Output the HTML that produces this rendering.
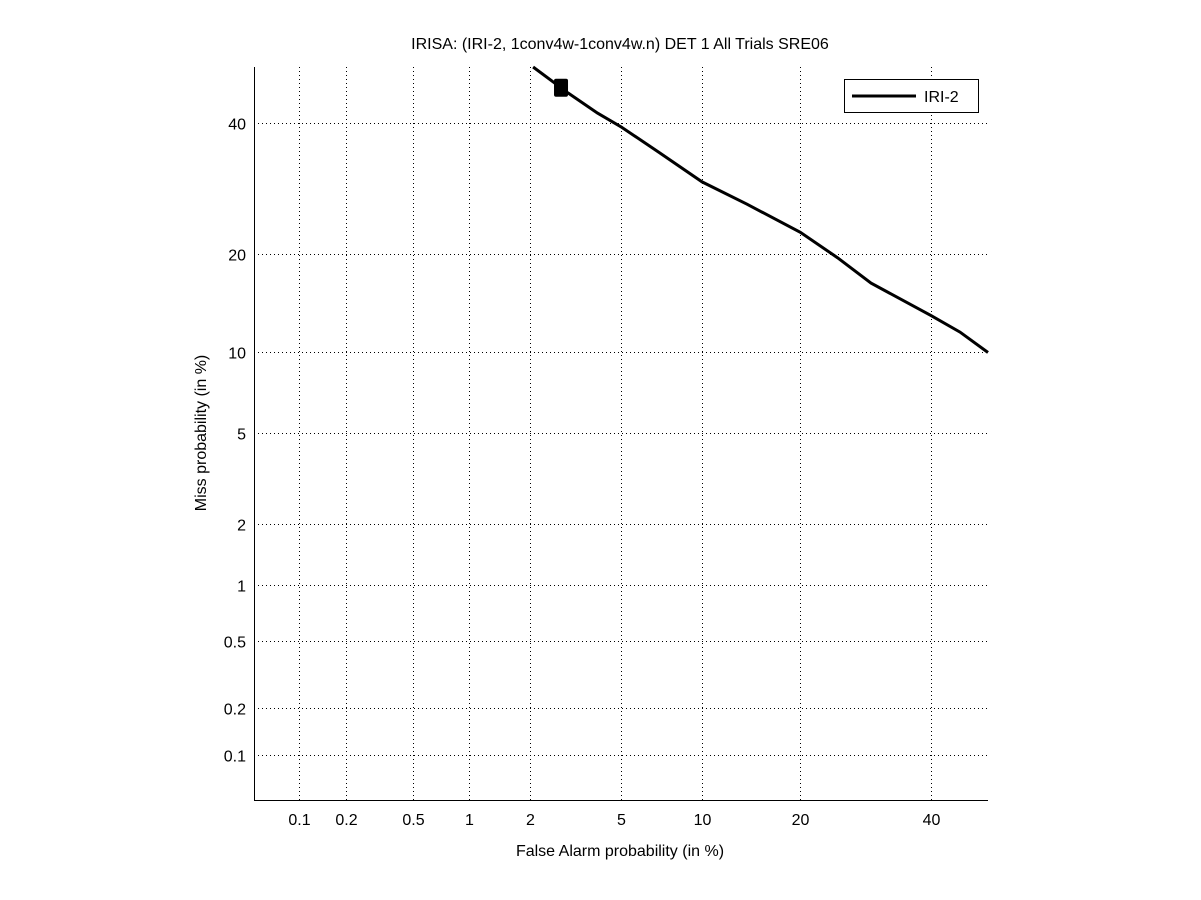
<!DOCTYPE html>
<html><head><meta charset="utf-8"><style>
html,body{margin:0;padding:0;background:#fff;}
svg{display:block;font-family:"Liberation Sans",sans-serif;}
</style></head><body>
<svg id="chart" width="1201" height="900">
<rect x="0" y="0" width="1201" height="900" fill="#fff"/>
<text x="620" y="49" font-size="16" text-anchor="middle">IRISA: (IRI-2, 1conv4w-1conv4w.n) DET 1 All Trials SRE06</text>
<text x="620" y="856" font-size="16" text-anchor="middle">False Alarm probability (in %)</text>
<text transform="translate(206,433) rotate(-90)" font-size="16" text-anchor="middle">Miss probability (in %)</text>
<g id="grid"></g><g id="ticks"></g><g id="series"></g>
<line x1="254.5" y1="67" x2="254.5" y2="800.5" stroke="#000"/>
<line x1="254" y1="800.5" x2="988" y2="800.5" stroke="#000"/>
<g>
<rect x="844.5" y="79.5" width="134" height="33" fill="#fff" stroke="#000"/>
<line x1="852" y1="96" x2="916" y2="96" stroke="#000" stroke-width="3"/>
<text x="924" y="102" font-size="16">IRI-2</text>
</g>
</svg>
<script>
const xTicks=[0.1,0.2,0.5,1,2,5,10,20,40];
const yTicks=[0.1,0.2,0.5,1,2,5,10,20,40];
const faPct=[2.07,3,4,5,7,10,14,20,25,30,40,45,50];
const missPct=[50,45.3,41.8,39.4,35.1,30.3,26.9,22.9,19.6,16.6,13.2,11.7,10];
const minDcf=[2.78,46.3];
function probit(p){
 const a=[-39.69683028665376,220.9460984245205,-275.9285104469687,138.357751867269,-30.66479806614716,2.506628277459239];
 const b=[-54.47609879822406,161.5858368580409,-155.6989798598866,66.80131188771972,-13.28068155288572];
 const c=[-0.007784894002430293,-0.3223964580411365,-2.400758277161838,-2.549732539343734,4.374664141464968,2.938163982698783];
 const d=[0.007784695709041462,0.3224671290700398,2.445134137142996,3.754408661907416];
 let q,r;
 if(p<0.02425){q=Math.sqrt(-2*Math.log(p));return (((((c[0]*q+c[1])*q+c[2])*q+c[3])*q+c[4])*q+c[5])/((((d[0]*q+d[1])*q+d[2])*q+d[3])*q+1);}
 if(p>1-0.02425){q=Math.sqrt(-2*Math.log(1-p));return -(((((c[0]*q+c[1])*q+c[2])*q+c[3])*q+c[4])*q+c[5])/((((d[0]*q+d[1])*q+d[2])*q+d[3])*q+1);}
 q=p-0.5;r=q*q;return (((((a[0]*r+a[1])*r+a[2])*r+a[3])*r+a[4])*r+a[5])*q/(((((b[0]*r+b[1])*r+b[2])*r+b[3])*r+b[4])*r+1);
}
const lo=probit(0.0005),hi=0;
function xs(p){return 254+(probit(p/100)-lo)/(hi-lo)*734;}
function ys(p){return 800-(probit(p/100)-lo)/(hi-lo)*733;}
const NS="http://www.w3.org/2000/svg";
function mk(t,at,parent){const e=document.createElementNS(NS,t);for(const k in at)e.setAttribute(k,at[k]);document.getElementById(parent).appendChild(e);return e;}
xTicks.forEach(v=>{const x=Math.round(xs(v))+0.5;
 const g=mk('line',{x1:x,x2:x,y1:67,y2:800,stroke:'#000','stroke-dasharray':'1,3','stroke-width':1},'grid');
 
 
 const t=mk('text',{x:x,y:825,'font-size':16,'text-anchor':'middle'},'ticks');t.textContent=v;
 
 
});
yTicks.forEach(v=>{const y=Math.round(ys(v))+0.5;
 const g=mk('line',{x1:254,x2:988,y1:y,y2:y,stroke:'#000','stroke-dasharray':'1,3','stroke-width':1},'grid');
 
 
 const t=mk('text',{x:246,y:y+6,'font-size':16,'text-anchor':'end'},'ticks');t.textContent=v;
 
 
});
const pts=faPct.map((f,i)=>xs(f).toFixed(1)+','+ys(missPct[i]).toFixed(1)).join(' ');
const pl=mk('polyline',{points:pts,fill:'none',stroke:'#000','stroke-width':3},'series');


const m=mk('rect',{x:xs(minDcf[0])-7,y:ys(minDcf[1])-9,width:14,height:18,rx:2,fill:'#000'},'series');


</script>
</body></html>
